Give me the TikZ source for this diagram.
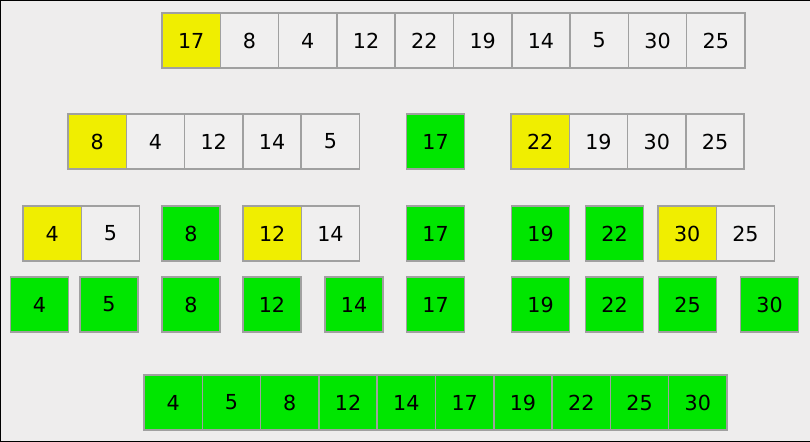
\documentclass[tikz,border=0pt]{standalone}
\usepackage{fontspec}
\setmainfont{DejaVu Sans}
\definecolor{bgGray}{HTML}{EEEDED}
\definecolor{cellGray}{HTML}{F0EFEF}
\definecolor{pivotYellow}{HTML}{F0EE00}
\definecolor{doneGreen}{HTML}{00E600}
\definecolor{edgeGray}{HTML}{A0A0A0}
\tikzset{
  cell/.style={draw=edgeGray, line width=1.1pt, fill=cellGray, minimum width=43.7pt,
    minimum height=41.2pt, inner sep=0pt, outer sep=0pt, font=\fontsize{15.5}{18}\selectfont},
  pivot/.style={cell, fill=pivotYellow},
  done/.style={cell, fill=doneGreen}
}

\begin{document}
\begin{tikzpicture}[x=0.75pt,y=-0.75pt]
  \fill[bgGray] (0,0) rectangle (810,442);
  \useasboundingbox (0,0) rectangle (810,442);
  \draw[black, line width=1.2pt] (810,0.5) -- (0.5,0.5) -- (0.5,441.5) -- (810,441.5);

  % first row: whole array, 17 is the pivot
  \foreach \v/\s [count=\i] in {17/pivot,8/cell,4/cell,12/cell,22/cell,19/cell,14/cell,5/cell,30/cell,25/cell}
    \node[\s] (top\i) at (191.15+58.3*\i-58.3, 40.5) {\v};

  % second row: split round 17
  \foreach \v/\s [count=\i] in {8/pivot,4/cell,12/cell,14/cell,5/cell}
    \node[\s] (lo\i) at (97.15+58.3*\i-58.3, 141.5) {\v};
  \node[done] (mid) at (435.5, 141.5) {17};
  \foreach \v/\s [count=\i] in {22/pivot,19/cell,30/cell,25/cell}
    \node[\s] (hi\i) at (540.15+58.3*\i-58.3, 141.5) {\v};

  % third row
  \node[pivot] (a1) at (52.15, 233.5) {4};
  \node[cell] (a2) at (110.45, 233.5) {5};
  \node[done] (b1) at (191, 233.5) {8};
  \node[pivot] (c1) at (272.15, 233.5) {12};
  \node[cell] (c2) at (330.45, 233.5) {14};
  \node[done] (d1) at (435.5, 233.5) {17};
  \node[done] (e1) at (540.5, 233.5) {19};
  \node[done] (f1) at (614.5, 233.5) {22};
  \node[pivot] (g1) at (687.15, 233.5) {30};
  \node[cell] (g2) at (745.45, 233.5) {25};

  % fourth row: single elements
  \foreach \v/\x [count=\i] in {4/39.5,5/109,8/191,12/272,14/354,17/435.5,19/540.5,22/614.5,25/687.5,30/769.5}
    \node[done] (one\i) at (\x, 304.5) {\v};

  % last row: sorted array
  \foreach \v [count=\i] in {4,5,8,12,14,17,19,22,25,30}
    \node[done] (res\i) at (173.15+58.3*\i-58.3, 402.5) {\v};
\end{tikzpicture}
\end{document}
